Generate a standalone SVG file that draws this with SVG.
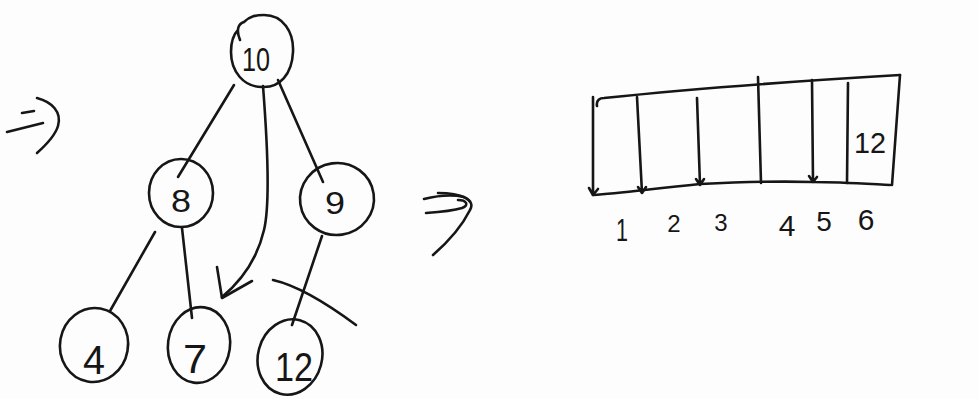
<svg xmlns="http://www.w3.org/2000/svg" width="979" height="399" viewBox="0 0 979 399">
<style>
.s{fill:none;stroke:#161616;stroke-width:2.6;stroke-linecap:round;stroke-linejoin:round}
.t{font-family:"Liberation Sans",Arial,sans-serif;fill:#161616;text-anchor:middle}
</style>
<rect width="979" height="399" fill="#fdfdfd"/>
<g id="arrow-left">
<path class="s" d="M22,113 L34,111"/>
<path class="s" d="M7,132 L43,123"/>
<path class="s" d="M37,98 C52,102 62,112 58,126 C55,136 46,145 37,153"/>
</g>
<g id="node-10">
<path class="s" d="M240,40 C236,30 238,24 244,22 C250,16 256,15 264,15 C283,15 294,32 293,52 C292,74 280,88 262,87 C244,87 231,72 231,52 C231,42 234,34 238,30"/>
<text class="t" x="256" y="71" font-size="34" textLength="28" lengthAdjust="spacingAndGlyphs">10</text>
</g>
<g id="node-8">
<ellipse class="s" cx="181" cy="193" rx="32" ry="34"/>
<text class="t" x="181" y="212" font-size="32" textLength="20" lengthAdjust="spacingAndGlyphs">8</text>
</g>
<g id="node-9">
<ellipse class="s" cx="337" cy="199" rx="37" ry="36" transform="rotate(-8 337 199)"/>
<text class="t" x="335" y="214" font-size="32" textLength="20" lengthAdjust="spacingAndGlyphs">9</text>
</g>
<g id="node-4">
<ellipse class="s" cx="94" cy="345" rx="34" ry="37" transform="rotate(10 94 345)"/>
<text class="t" x="94" y="374" font-size="40" textLength="22" lengthAdjust="spacingAndGlyphs">4</text>
</g>
<g id="node-7">
<ellipse class="s" cx="199" cy="345" rx="31" ry="38" transform="rotate(8 199 345)"/>
<text class="t" x="195" y="373" font-size="40" textLength="24" lengthAdjust="spacingAndGlyphs">7</text>
</g>
<g id="node-12">
<ellipse class="s" cx="290" cy="357" rx="32" ry="38" transform="rotate(15 290 357)"/>
<text class="t" x="294" y="381" font-size="40" textLength="38" lengthAdjust="spacingAndGlyphs">12</text>
</g>
<g id="connectors">
<path class="s" d="M234,85 L178,177"/>
<path class="s" d="M278,80 L323,182"/>
<path class="s" d="M263,86 C268,150 270,205 264,230 C257,260 240,282 222,297"/>
<path class="s" d="M217,267 L222,298 L252,281"/>
<path class="s" d="M155,232 L110,311"/>
<path class="s" d="M182,228 L192,318"/>
<path class="s" d="M322,236 L292,325"/>
<path class="s" d="M273,280 C295,285 325,302 356,325"/>
</g>
<g id="arrow-right">
<path class="s" d="M424,199 C440,195 455,195 464,197"/>
<path class="s" d="M426,213 C440,212 452,211 462,208 C470,205 466,200 458,200"/>
<path class="s" d="M438,193 C462,193 476,200 470,210 C462,226 448,242 433,255"/>
</g>
<g id="array">
<path class="s" d="M597,106 C596,100 600,98 604,98 C680,90 780,82 900,75"/>
<path class="s" d="M900,75 L892,185"/>
<path class="s" d="M593,195 C620,193 650,189 700,184 C740,182 780,181 813,182 C840,182 870,184 890,185"/>
<path class="s" d="M593,97 L593,195 M589,188 L593,195 L598,189"/>
<path class="s" d="M637,97 L642,193 M638,187 L642,193 L646,187"/>
<path class="s" d="M697,98 L700,185 M696,179 L700,185 L704,179"/>
<path class="s" d="M758,77 L761,183"/>
<path class="s" d="M812,80 L813,182 M809,176 L813,182 L817,177"/>
<path class="s" d="M848,83 L847,183"/>
<text class="t" x="870" y="153" font-size="30" textLength="32" lengthAdjust="spacingAndGlyphs">12</text>
</g>
<g id="labels">
<text class="t" x="622" y="241" font-size="32" textLength="12" lengthAdjust="spacingAndGlyphs">1</text>
<text class="t" x="674" y="232" font-size="24">2</text>
<text class="t" x="721" y="231" font-size="24">3</text>
<text class="t" x="787" y="236" font-size="30">4</text>
<text class="t" x="824" y="231" font-size="28">5</text>
<text class="t" x="866" y="230" font-size="30">6</text>
</g>
</svg>
